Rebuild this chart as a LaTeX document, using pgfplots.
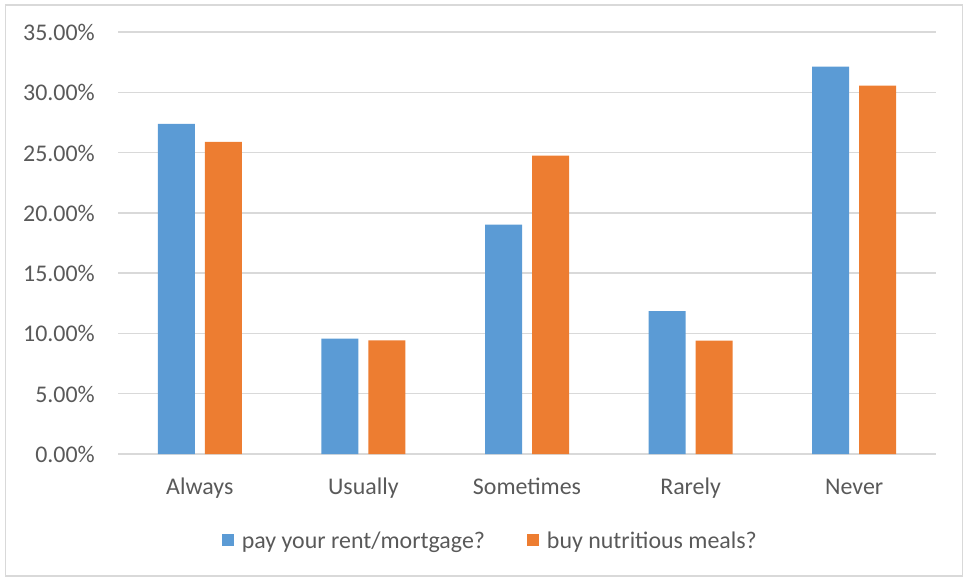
\documentclass[border=0pt]{standalone}
\usepackage{pgfplots}
\pgfplotsset{compat=1.18}
\usepackage{fontspec}
\setmainfont{Carlito}
\definecolor{txt}{HTML}{595959}
\definecolor{gridc}{HTML}{D9D9D9}
\definecolor{cblue}{HTML}{5B9BD5}
\definecolor{corange}{HTML}{ED7D31}
\begin{document}
\begin{tikzpicture}
\useasboundingbox (0,0) rectangle (964bp,581bp);
\draw[gridc, line width=1.5bp] (5.5bp,5bp) rectangle (962.5bp,576bp);
\begin{axis}[
  at={(118bp,127bp)}, anchor=south west,
  scale only axis, width=818bp, height=422bp,
  xmin=-0.5, xmax=4.5, ymin=0, ymax=35,
  ybar=10bp, bar width=37bp,
  axis line style={draw=none},
  major tick length=0pt,
  ymajorgrids, grid style={gridc, line width=1.3bp},
  xtick={0,1,2,3,4},
  xticklabels={Always,Usually,Sometimes,Rarely,Never},
  ytick={0,5,10,15,20,25,30,35},
  yticklabels={0.00\%,5.00\%,10.00\%,15.00\%,20.00\%,25.00\%,30.00\%,35.00\%},
  tick label style={font=\fontsize{24}{28}\selectfont, text=txt, inner sep=0pt},
  yticklabel style={anchor=east, xshift=-23bp, yshift=-0.5bp},
  xticklabel style={anchor=base, yshift=-40bp},
  legend columns=2,
  legend style={at={(0.454,-0.205)}, anchor=center, draw=none, fill=none,
    font=\fontsize{24}{28}\selectfont, text=txt,
    nodes={inner sep=0pt},
    /tikz/column sep=0pt,
    /tikz/every even column/.append style={column sep=42bp}},
  legend image code/.code={\fill[#1, draw=none] (0bp,-5bp) rectangle (12bp,7bp); \path (20bp,0bp);},
  clip=false,
]
\addplot[fill=cblue, draw=none] coordinates {(0,27.38) (1,9.56) (2,19.02) (3,11.85) (4,32.13)};
\addplot[fill=corange, draw=none] coordinates {(0,25.89) (1,9.42) (2,24.75) (3,9.41) (4,30.56)};
\legend{pay your rent/mortgage?, buy nutritious meals?}
\end{axis}
\end{tikzpicture}
\end{document}
